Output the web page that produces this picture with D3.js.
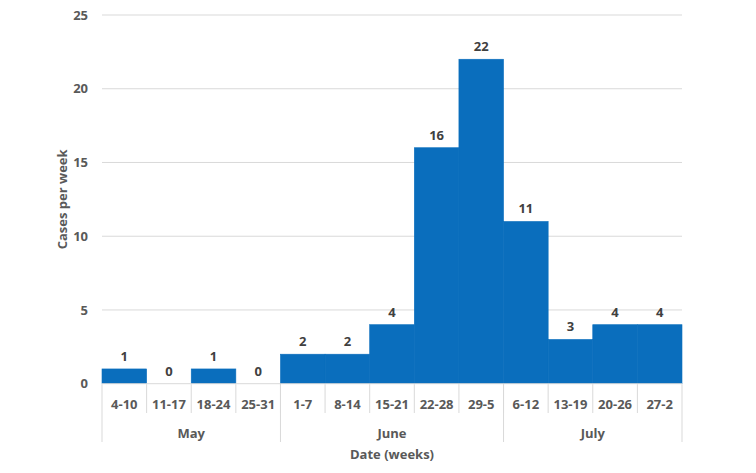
<!DOCTYPE html>
<html>
<head>
<meta charset="utf-8">
<script src="https://cdn.jsdelivr.net/npm/d3@7"></script>
<style>
  body { margin: 0; background: #fff; }
  text { font-family: "Open Sans", "Liberation Sans", sans-serif; }
</style>
</head>
<body>
<svg id="viz"></svg>
<script>
// weekly categories, with the month each belongs to
const weeks = ["4-10", "11-17", "18-24", "25-31", "1-7", "8-14", "15-21", "22-28", "29-5", "6-12", "13-19", "20-26", "27-2"];
const cases = [1, 0, 1, 0, 2, 2, 4, 16, 22, 11, 3, 4, 4];
const months = ["May", "June", "July"];
const monthSizes = [4, 5, 4];
const yTicks = [0, 5, 10, 15, 20, 25];

const width = 756, height = 473;
const svg = d3.select("#viz").attr("width", width).attr("height", height);

const plotL = 102, plotR = 682, plotT = 15, plotB = 383.7;

const x = d3.scaleBand().domain(weeks).range([plotL, plotR]).padding(0);
const y = d3.scaleLinear().domain([0, 25]).range([plotB, plotT]);

// gridlines
svg.append("g").selectAll("line")
  .data(yTicks.filter(d => d > 0))
  .enter().append("line")
  .attr("x1", plotL).attr("x2", plotR)
  .attr("y1", d => y(d)).attr("y2", d => y(d))
  .attr("stroke", "#d9d9d9").attr("stroke-width", 1);

// y tick labels
svg.append("g").selectAll("text")
  .data(yTicks)
  .enter().append("text")
  .attr("x", 88).attr("y", d => y(d))
  .attr("dy", "0.35em")
  .attr("text-anchor", "end")
  .attr("font-size", 13).attr("font-weight", "bold")
  .attr("fill", "#595959")
  .text(d => d);

// bars (stroked in the fill colour so neighbours merge without seams)
svg.append("g").selectAll("rect")
  .data(weeks)
  .enter().append("rect")
  .attr("x", d => x(d))
  .attr("y", (d, i) => y(cases[i]))
  .attr("width", x.bandwidth())
  .attr("height", (d, i) => plotB - y(cases[i]))
  .attr("fill", "#0a6ebd")
  .attr("stroke", "#0a6ebd").attr("stroke-width", 0.6);

// value labels
svg.append("g").selectAll("text")
  .data(weeks)
  .enter().append("text")
  .attr("x", d => x(d) + x.bandwidth() / 2)
  .attr("y", (d, i) => y(cases[i]) - 8)
  .attr("text-anchor", "middle")
  .attr("font-size", 13).attr("font-weight", "bold")
  .attr("fill", "#404040")
  .text((d, i) => cases[i]);

// category axis line
svg.append("line")
  .attr("x1", plotL).attr("x2", plotR)
  .attr("y1", plotB).attr("y2", plotB)
  .attr("stroke", "#d9d9d9");

// ticks between weeks
svg.append("g").selectAll("line")
  .data(weeks.slice(1))
  .enter().append("line")
  .attr("x1", d => x(d)).attr("x2", d => x(d))
  .attr("y1", plotB + 0.5).attr("y2", 413)
  .attr("stroke", "#d9d9d9");

// month separators
let acc = 0;
const bounds = [0];
monthSizes.forEach(n => { acc += n; bounds.push(acc); });
const boundX = i => i < weeks.length ? x(weeks[i]) : plotR;
svg.append("g").selectAll("line")
  .data(bounds)
  .enter().append("line")
  .attr("x1", boundX).attr("x2", boundX)
  .attr("y1", plotB + 0.5).attr("y2", 442)
  .attr("stroke", "#d9d9d9");

// week labels
svg.append("g").selectAll("text")
  .data(weeks)
  .enter().append("text")
  .attr("x", d => x(d) + x.bandwidth() / 2)
  .attr("y", 404).attr("dy", "0.35em")
  .attr("text-anchor", "middle")
  .attr("font-size", 13).attr("font-weight", "bold")
  .attr("fill", "#595959")
  .text(d => d);

// month labels
svg.append("g").selectAll("text")
  .data(months)
  .enter().append("text")
  .attr("x", (d, i) => (boundX(bounds[i]) + boundX(bounds[i + 1])) / 2)
  .attr("y", 433).attr("dy", "0.35em")
  .attr("text-anchor", "middle")
  .attr("font-size", 13).attr("font-weight", "bold")
  .attr("fill", "#595959")
  .text(d => d);

// axis titles
svg.append("text")
  .attr("x", (plotL + plotR) / 2).attr("y", 454).attr("dy", "0.35em")
  .attr("text-anchor", "middle")
  .attr("font-size", 13).attr("font-weight", "bold")
  .attr("fill", "#595959")
  .text("Date (weeks)");

svg.append("text")
  .attr("transform", "translate(62," + (plotT + plotB) / 2 + ") rotate(-90)")
  .attr("dy", "0.35em")
  .attr("text-anchor", "middle")
  .attr("font-size", 13).attr("font-weight", "bold")
  .attr("fill", "#595959")
  .text("Cases per week");
</script>
</body>
</html>
